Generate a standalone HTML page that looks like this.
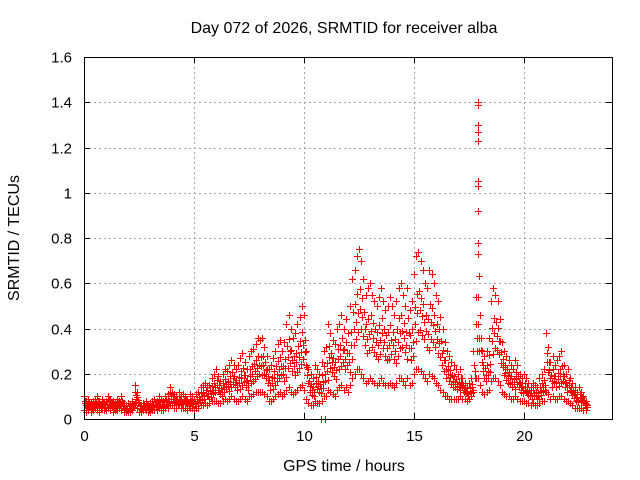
<!DOCTYPE html>
<html><head><meta charset="utf-8"><style>
body{margin:0;background:#fff;}
svg{display:block;font-family:"Liberation Sans",Arial,sans-serif;}
</style></head><body>
<svg id="chart" width="640" height="480">
<g id="grid"></g>
<g id="marks"></g>
<rect x="84.5" y="57.5" width="528" height="362" fill="none" stroke="#000" stroke-width="1" shape-rendering="crispEdges"/>
<g id="axes"></g>
<text x="344" y="33" text-anchor="middle" font-size="16">Day 072 of 2026, SRMTID for receiver alba</text>
<text x="344" y="471" text-anchor="middle" font-size="16">GPS time / hours</text>
<text transform="translate(19,238) rotate(-90)" text-anchor="middle" font-size="16">SRMTID / TECUs</text>
</svg>
<script>
const xTicks=[0,5,10,15,20];
const yTicks=[0,0.2,0.4,0.6,0.8,1,1.2,1.4,1.6];
const yTickLabels=["0","0.2","0.4","0.6","0.8","1","1.2","1.4","1.6"];
const timeStep=0.1;
const hiVals=[.10,.08,.09,.07,.08,.09,.10,.08,.09,.07,
.08,.10,.09,.08,.07,.09,.08,.10,.07,.06,
.07,.06,.08,.15,.12,.07,.06,.07,.08,.06,
.07,.08,.09,.08,.10,.09,.08,.10,.11,.14,
.12,.11,.10,.12,.10,.11,.10,.09,.11,.10,
.09,.11,.12,.14,.15,.16,.14,.15,.18,.20,
.22,.19,.17,.20,.22,.21,.24,.26,.24,.22,
.24,.27,.29,.25,.22,.28,.30,.31,.33,.36,
.35,.36,.32,.28,.22,.24,.27,.30,.33,.35,
.30,.34,.42,.46,.40,.36,.38,.42,.45,.50,
.46,.30,.22,.20,.18,.24,.22,.20,.25,.30,
.32,.42,.38,.35,.33,.40,.42,.46,.40,.44,
.38,.50,.62,.66,.72,.75,.70,.62,.55,.58,
.60,.55,.52,.50,.54,.58,.52,.48,.50,.54,
.50,.46,.52,.58,.60,.55,.50,.58,.48,.52,
.64,.72,.74,.70,.66,.60,.58,.66,.64,.60,
.55,.52,.45,.40,.34,.30,.28,.25,.24,.22,
.20,.22,.18,.16,.14,.16,.18,.30,.54,.54,
.46,.30,.28,.30,.36,.52,.58,.55,.52,.44,
.34,.30,.28,.26,.24,.22,.26,.24,.20,.18,
.20,.18,.16,.14,.16,.15,.14,.18,.20,.22,
.38,.32,.25,.28,.24,.26,.28,.30,.24,.20,
.22,.18,.16,.14,.12,.14,.12,.10,.08];
const loVals=[.04,.03,.04,.03,.04,.05,.04,.03,.05,.04,
.04,.05,.04,.03,.04,.04,.05,.04,.03,.03,
.03,.03,.04,.06,.05,.03,.03,.04,.04,.03,
.03,.04,.04,.04,.05,.04,.04,.05,.05,.06,
.06,.05,.05,.06,.05,.05,.05,.04,.05,.05,
.04,.05,.05,.06,.06,.07,.06,.07,.08,.08,
.08,.07,.07,.08,.09,.08,.09,.10,.09,.08,
.08,.09,.10,.09,.08,.10,.10,.11,.12,.12,
.12,.12,.11,.10,.08,.08,.09,.10,.11,.12,
.10,.11,.13,.14,.12,.11,.12,.13,.14,.15,
.13,.09,.07,.06,.06,.08,.07,.07,.08,.10,
.10,.13,.12,.11,.10,.13,.14,.15,.13,.14,
.12,.15,.18,.20,.22,.22,.20,.18,.16,.17,
.18,.17,.16,.15,.16,.18,.16,.15,.15,.16,
.15,.14,.16,.18,.18,.17,.15,.18,.15,.16,
.20,.22,.22,.21,.20,.18,.17,.20,.19,.18,
.16,.15,.13,.12,.10,.10,.09,.09,.09,.09,
.09,.10,.09,.09,.08,.09,.10,.12,.18,.18,
.15,.12,.11,.12,.13,.17,.18,.18,.17,.15,
.12,.11,.10,.10,.09,.09,.10,.09,.08,.08,
.08,.07,.07,.06,.07,.06,.06,.07,.08,.08,
.12,.11,.09,.10,.09,.09,.10,.10,.09,.08,
.08,.07,.06,.05,.05,.05,.05,.04,.04];
const outlierTimes=[17.9,17.9,17.9,17.9,17.9,17.9,17.9,17.9,17.9,17.9,17.95,10.75,10.95];
const outlierVals=[1.40,1.39,1.30,1.27,1.23,1.05,1.03,0.92,0.78,0.73,0.63,0,0];

const NS="http://www.w3.org/2000/svg";
const X0=84,X1=612,Y0=419,Y1=57,XMAX=24,YMAX=1.6;
const xs=v=>X0+v/XMAX*(X1-X0);
const ys=v=>Y0-v/YMAX*(Y0-Y1);
const grid=document.getElementById('grid'),axes=document.getElementById('axes'),marks=document.getElementById('marks');
function mk(tag,attrs,parent){const e=document.createElementNS(NS,tag);for(const k in attrs)e.setAttribute(k,attrs[k]);parent.appendChild(e);return e;}
xTicks.forEach(t=>{
  const x=xs(t)+0.5;
  if(t>0){const g=mk('line',{x1:x,x2:x,y1:Y0,y2:Y1,stroke:'#a0a0a0','stroke-dasharray':'2,3','shape-rendering':'crispEdges'},grid);
  
  }
  const tk=mk('path',{d:`M${x},${Y0}v-6M${x},${Y1}v6`,stroke:'#000','shape-rendering':'crispEdges'},axes);
  
  
  const l=mk('text',{x:x,y:Y0+22,'text-anchor':'middle','font-size':15},axes);
  l.textContent=String(t);
  
  
});
yTicks.forEach((t,i)=>{
  const y=Math.round(ys(t))+0.5;
  if(t>0&&t<YMAX){const g=mk('line',{x1:X0,x2:X1,y1:y,y2:y,stroke:'#a0a0a0','stroke-dasharray':'2,3','shape-rendering':'crispEdges'},grid);
  
  }
  const tk=mk('path',{d:`M${X0},${y}h6M${X1},${y}h-6`,stroke:'#000','shape-rendering':'crispEdges'},axes);
  
  
  const l=mk('text',{x:X0-12,y:y+5,'text-anchor':'end','font-size':15},axes);
  l.textContent=yTickLabels[i];
  
  
});
let d='';
function plus(t,v){const x=Math.round(xs(t))+0.5,y=Math.round(ys(v))+0.5;d+=`M${x-3.5},${y}h7M${x},${y-3.5}v7`;}
hiVals.forEach((h,i)=>{
  const t=i*timeStep,lo=loVals[i];
  plus(t,h);plus(t,lo);
  plus(t+timeStep/2,(h+lo)/2);
  plus(t+timeStep/4,(h*2+lo)/3);
  plus(t+3*timeStep/4,(h+lo*2)/3);
});
outlierTimes.forEach((t,i)=>plus(t,outlierVals[i]));
const p=mk('path',{d:d,stroke:'#ff0000','stroke-width':1,fill:'none','shape-rendering':'crispEdges'},marks);


</script>
</body></html>
